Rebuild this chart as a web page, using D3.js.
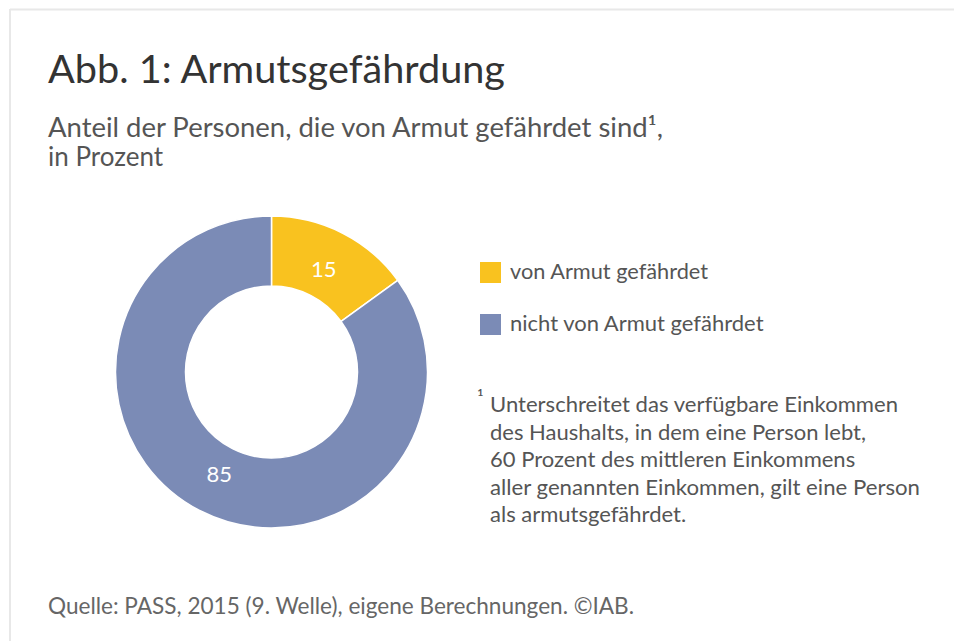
<!DOCTYPE html>
<html><head><meta charset="utf-8">
<script src="https://cdn.jsdelivr.net/npm/d3@7"></script>
<style>
html,body{margin:0;padding:0;background:#fff;}
svg{display:block;}
text{font-family:Lato,"Open Sans",sans-serif;}
</style></head>
<body><svg id="c" width="954" height="641"></svg>
<script>
const categories = ["von Armut gefährdet", "nicht von Armut gefährdet"];
const values = [15, 85];
const colors = ["#F9C21F", "#7B8BB6"];
const title = "Abb. 1: Armutsgefährdung";
const subtitleLines = ["Anteil der Personen, die von Armut gefährdet sind¹,", "in Prozent"];
const footnoteMark = "¹";
const footnoteLines = ["Unterschreitet das verfügbare Einkommen", "des Haushalts, in dem eine Person lebt,", "60 Prozent des mittleren Einkommens", "aller genannten Einkommen, gilt eine Person", "als armutsgefährdet."];
const source = "Quelle: PASS, 2015 (9. Welle), eigene Berechnungen. ©IAB.";

const svg = d3.select("#c");
// frame
svg.append("line").attr("x1",10).attr("x2",954).attr("y1",9.5).attr("y2",9.5).attr("stroke","#e8e8e8").attr("stroke-width",2);
svg.append("line").attr("x1",10).attr("x2",10).attr("y1",9).attr("y2",641).attr("stroke","#e8e8e8").attr("stroke-width",2);

function fit(sel, w){
  const n = sel.node();
  const cur = n.getComputedTextLength();
  if (Math.abs(cur - w) > 1) sel.attr("textLength", w).attr("lengthAdjust","spacingAndGlyphs");
  return sel;
}

fit(svg.append("text").attr("x",48).attr("y",83).attr("font-size",39).attr("fill","#333").text(title), 457);
fit(svg.append("text").attr("x",48).attr("y",137).attr("font-size",26).attr("fill","#555").text(subtitleLines[0]), 615);
svg.append("text").attr("x",48).attr("y",166).attr("font-size",26).attr("fill","#555").text(subtitleLines[1]);

const cx = 271.5, cy = 372, rOuter = 156, rInner = 86;
const pie = d3.pie().sort(null).value(d=>d)(values);
const arc = d3.arc().innerRadius(rInner).outerRadius(rOuter);
const labelArc = d3.arc().innerRadius(115).outerRadius(115);
const g = svg.append("g").attr("transform",`translate(${cx},${cy})`);
g.selectAll("path").data(pie).join("path").attr("d",arc)
  .attr("fill",(d,i)=>colors[i]).attr("stroke","#fff").attr("stroke-width",1.5);
g.selectAll("text").data(pie).join("text")
  .attr("transform",d=>`translate(${labelArc.centroid(d)})`)
  .attr("text-anchor","middle").attr("dy","0.35em")
  .attr("font-size",22).attr("fill","#fff").text(d=>d.data);

const leg = svg.append("g");
const legW = [198, 253];
categories.forEach((c,i)=>{
  const y = 262 + i*52;
  leg.append("rect").attr("x",480).attr("y",y).attr("width",21).attr("height",21).attr("fill",colors[i]);
  fit(leg.append("text").attr("x",510).attr("y",y+17).attr("font-size",22).attr("fill","#555").text(c), legW[i]);
});

svg.append("text").attr("x",477).attr("y",406).attr("font-size",20).attr("fill","#555").text(footnoteMark);
const fnW = [408, null, null, 430, null];
footnoteLines.forEach((l,i)=>{
  const t = svg.append("text").attr("x",490).attr("y",412 + i*27.5).attr("font-size",22).attr("fill","#555").text(l);
  if (fnW[i]) fit(t, fnW[i]);
});
fit(svg.append("text").attr("x",48).attr("y",614).attr("font-size",22.5).attr("fill","#666").text(source), 586);
</script></body></html>
